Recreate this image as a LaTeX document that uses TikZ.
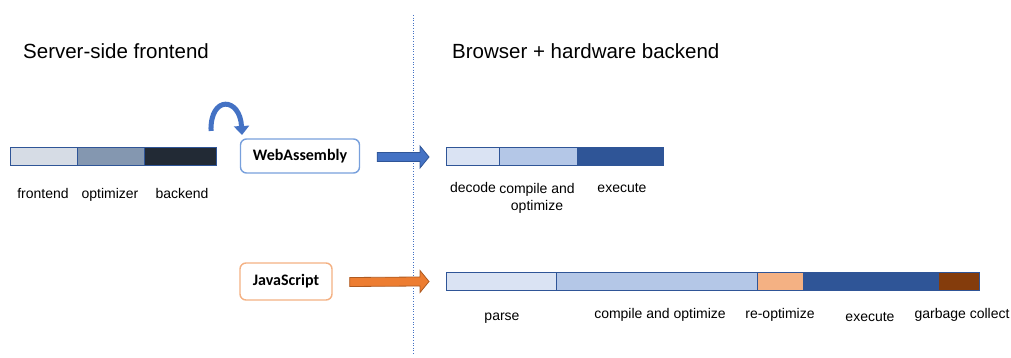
\documentclass[tikz,border=0pt]{standalone}
\usepackage{fontspec}
\setmainfont{Liberation Sans}
\newfontfamily\boxfont{Carlito}
\usetikzlibrary{arrows.meta,calc,positioning}

\definecolor{barline}{RGB}{47,85,151}
\definecolor{feC}{RGB}{214,220,229}
\definecolor{optC}{RGB}{132,151,176}
\definecolor{beC}{RGB}{34,42,53}
\definecolor{paleblue}{RGB}{218,227,243}
\definecolor{midblue}{RGB}{180,199,231}
\definecolor{darkblue}{RGB}{47,85,151}
\definecolor{peach}{RGB}{244,177,131}
\definecolor{rust}{RGB}{132,60,12}
\definecolor{accent}{RGB}{68,114,196}
\definecolor{accentdark}{RGB}{47,85,151}
\definecolor{orangeA}{RGB}{237,125,49}
\definecolor{orangeB}{RGB}{174,90,33}
\definecolor{waborder}{RGB}{120,160,220}

\tikzset{
  seg/.style={draw=barline, line width=0.9pt, minimum height=18pt, inner sep=0pt,
              outer sep=0pt, anchor=west},
  lbl/.style={font=\fontsize{14}{17}\selectfont, anchor=base, inner sep=0pt, align=center},
  heading/.style={font=\fontsize{20.5}{24}\selectfont, anchor=base west, inner sep=0pt},
  srcbox/.style={rounded corners=6pt, line width=1.4pt, fill=white, inner sep=0pt,
                 font=\boxfont\bfseries\fontsize{16}{19}\selectfont},
}

% block arrow between two points, shaft half-height 4.5, head half-width 11, head length 9
\newcommand{\blockarrow}[4]{%
  \filldraw[fill=#3, draw=#4, line width=0.8pt, line join=miter]
    ($(#1)+(0,4.5)$) -- ($(#2)+(-9,4.5)$) -- ($(#2)+(-9,11)$) -- (#2)
    -- ($(#2)+(-9,-11)$) -- ($(#2)+(-9,-4.5)$) -- ($(#1)+(0,-4.5)$) -- cycle;}

\begin{document}
\begin{tikzpicture}[x=1pt,y=-1pt]
\useasboundingbox (0,0) rectangle (1011,358);

% divider between the two halves
\draw[accent, line width=0.8pt, dash pattern=on 1pt off 1.6pt] (413,15) -- (413,355);

% headings
\node[heading] (hl) at (23,59) {Server-side frontend};
\node[heading] (hr) at (452,59) {Browser + hardware backend};

% compiler pipeline on the server
\node[seg, fill=feC,  minimum width=67pt] (fe)  at (10,156.5) {};
\node[seg, fill=optC, minimum width=67pt] (opt) at (fe.east) {};
\node[seg, fill=beC,  minimum width=72pt] (be)  at (opt.east) {};
\node[lbl] (lfe)  at (43,198)  {frontend};
\node[lbl] (lopt) at (110,198) {optimizer};
\node[lbl] (lbe)  at (182,198) {backend};

% source formats
\node[srcbox, draw=waborder, minimum width=119pt, minimum height=34pt] (wasm) at (300,156) {WebAssembly};
\node[srcbox, draw=peach, minimum width=92pt, minimum height=37pt] (js) at (286,281.5) {JavaScript};

% curved arrow from the pipeline to the WebAssembly output
\coordinate (cstart) at (211,131);
\coordinate (cend) at (242,135);
\draw[accent, line width=5pt, -{Triangle[length=9pt,width=15pt]}]
  (cstart) .. controls (210,95) and (240,97) .. (cend);

% WebAssembly execution in the browser
\node[seg, fill=paleblue, minimum width=53pt] (dec)  at (446,156.5) {};
\node[seg, fill=midblue,  minimum width=78pt] (wco)  at (dec.east) {};
\node[seg, fill=darkblue, minimum width=86pt] (wex)  at (wco.east) {};
\node[lbl] (ldec) at (473,193) {decode};
\node[lbl] (lwco) at (537,210) {compile and\\optimize};
\node[lbl] (lwex) at (622,193) {execute};

% JavaScript execution in the browser
\node[seg, fill=paleblue, minimum width=110pt] (par) at (446,281) {};
\node[seg, fill=midblue,  minimum width=201pt] (jco) at (par.east) {};
\node[seg, fill=peach,    minimum width=46pt]  (reo) at (jco.east) {};
\node[seg, fill=darkblue, minimum width=135pt] (jex) at (reo.east) {};
\node[seg, fill=rust,     minimum width=41pt]  (gc)  at (jex.east) {};
\node[lbl] (lpar) at (502,320) {parse};
\node[lbl] (ljco) at (660,318) {compile and optimize};
\node[lbl] (lreo) at (780,318) {re-optimize};
\node[lbl] (ljex) at (870,321) {execute};
\node[lbl] (lgc)  at (962,318) {garbage collect};

% transfer arrows
\coordinate (wa0) at ($(wasm.east)+(17,1)$);
\coordinate (wa1) at ($(dec.west)+(-17,0.5)$);
\blockarrow{wa0}{wa1}{accent}{accentdark}
\coordinate (ja0) at ($(js.east)+(17,0.5)$);
\coordinate (ja1) at ($(par.west)+(-17,0.5)$);
\blockarrow{ja0}{ja1}{orangeA}{orangeB}
\end{tikzpicture}
\end{document}
